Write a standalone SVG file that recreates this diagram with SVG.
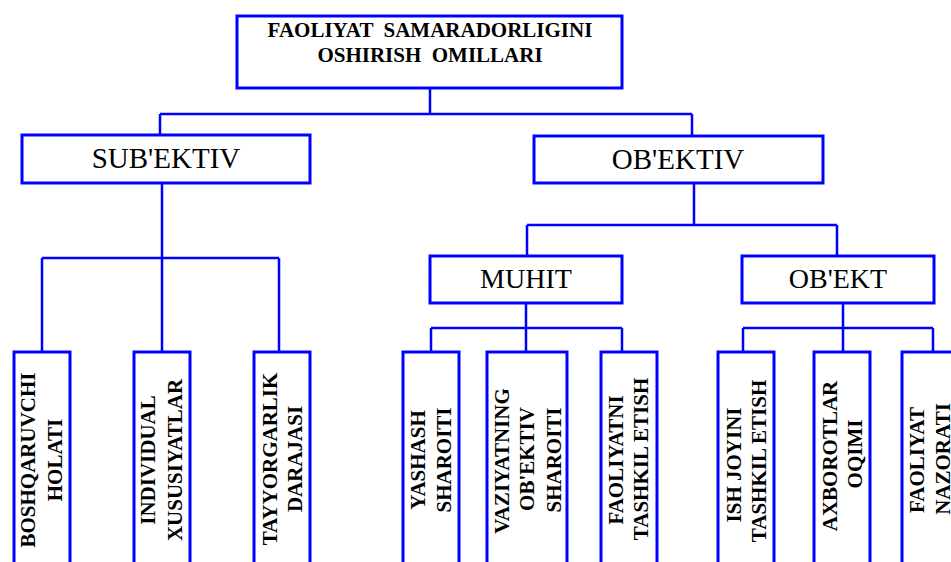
<svg xmlns="http://www.w3.org/2000/svg" width="951" height="562" viewBox="0 0 951 562">
<style>
.box{fill:#fff;stroke:#0000ff;stroke-width:3}
.ln{fill:none;stroke:#0000ff;stroke-width:2.5}
.t{font-family:"Liberation Serif","Times New Roman",serif;fill:#000;text-anchor:middle}
.tt{font-size:21px;font-weight:bold}
.big{font-size:29px}
.mid{font-size:28px}
.v{font-size:21px;font-weight:bold}
</style>
<rect x="0" y="0" width="951" height="562" fill="#fff"/>
<g id="connectors">
<path class="ln" d="M430,88V114M160,114H692M160,114V135M692,114V136"/>
<path class="ln" d="M162,183V258M42,258H279M42,258V352M162,258V352M279,258V352"/>
<path class="ln" d="M694,183V225M527,225H837M527,225V256M837,225V256"/>
<path class="ln" d="M526,303V328M431,328H622M431,328V352M526,328V352M622,328V352"/>
<path class="ln" d="M843,303V328M743,328H933M743,328V352M843,328V352M933,328V352"/>
</g>
<g id="root">
<rect class="box" x="237" y="16" width="385" height="72"/>
<text class="t tt" x="430" y="37" xml:space="preserve">FAOLIYAT  SAMARADORLIGINI</text>
<text class="t tt" x="430" y="62" xml:space="preserve">OSHIRISH  OMILLARI</text>
</g>
<g id="subektiv">
<rect class="box" x="22" y="135" width="288" height="48"/>
<text class="t big" x="166" y="168">SUB'EKTIV</text>
</g>
<g id="obektiv">
<rect class="box" x="534" y="136" width="289" height="47"/>
<text class="t big" x="678" y="169">OB'EKTIV</text>
</g>
<g id="muhit">
<rect class="box" x="430" y="256" width="192" height="47"/>
<text class="t mid" x="526" y="288">MUHIT</text>
</g>
<g id="obekt">
<rect class="box" x="742" y="256" width="192" height="47"/>
<text class="t mid" x="838" y="288">OB'EKT</text>
</g>
<g id="boshqaruvchi">
<rect class="box" x="14" y="352" width="56" height="240"/>
<text class="t v" transform="translate(35,460) rotate(-90)">BOSHQARUVCHI</text>
<text class="t v" transform="translate(62,460) rotate(-90)">HOLATI</text>
</g>
<g id="individual">
<rect class="box" x="134" y="352" width="56" height="240"/>
<text class="t v" transform="translate(155,460) rotate(-90)">INDIVIDUAL</text>
<text class="t v" transform="translate(182,460) rotate(-90)">XUSUSIYATLAR</text>
</g>
<g id="tayyorgarlik">
<rect class="box" x="254" y="352" width="56" height="240"/>
<text class="t v" transform="translate(277,459) rotate(-90)">TAYYORGARLIK</text>
<text class="t v" transform="translate(302,459) rotate(-90)">DARAJASI</text>
</g>
<g id="yashash">
<rect class="box" x="403" y="352" width="56" height="240"/>
<text class="t v" transform="translate(425,460) rotate(-90)">YASHASH</text>
<text class="t v" transform="translate(451,460) rotate(-90)">SHAROITI</text>
</g>
<g id="vaziyat">
<rect class="box" x="487" y="352" width="80" height="240"/>
<text class="t v" transform="translate(509,461) rotate(-90)">VAZIYATNING</text>
<text class="t v" transform="translate(534,459) rotate(-90)">OB'EKTIV</text>
<text class="t v" transform="translate(561,460) rotate(-90)">SHAROITI</text>
</g>
<g id="faoliyatni">
<rect class="box" x="601" y="352" width="56" height="240"/>
<text class="t v" transform="translate(623,460) rotate(-90)">FAOLIYATNI</text>
<text class="t v" transform="translate(648,459) rotate(-90)">TASHKIL ETISH</text>
</g>
<g id="ishjoyi">
<rect class="box" x="718" y="352" width="56" height="240"/>
<text class="t v" transform="translate(741,465) rotate(-90)">ISH JOYINI</text>
<text class="t v" transform="translate(766,461) rotate(-90)">TASHKIL ETISH</text>
</g>
<g id="axborot">
<rect class="box" x="814" y="352" width="56" height="240"/>
<text class="t v" transform="translate(837,456) rotate(-90)">AXBOROTLAR</text>
<text class="t v" transform="translate(862,454) rotate(-90)">OQIMI</text>
</g>
<g id="nazorat">
<rect class="box" x="902" y="352" width="56" height="240"/>
<text class="t v" transform="translate(924,460) rotate(-90)">FAOLIYAT</text>
<text class="t v" transform="translate(950,459) rotate(-90)">NAZORATI</text>
</g>
</svg>
